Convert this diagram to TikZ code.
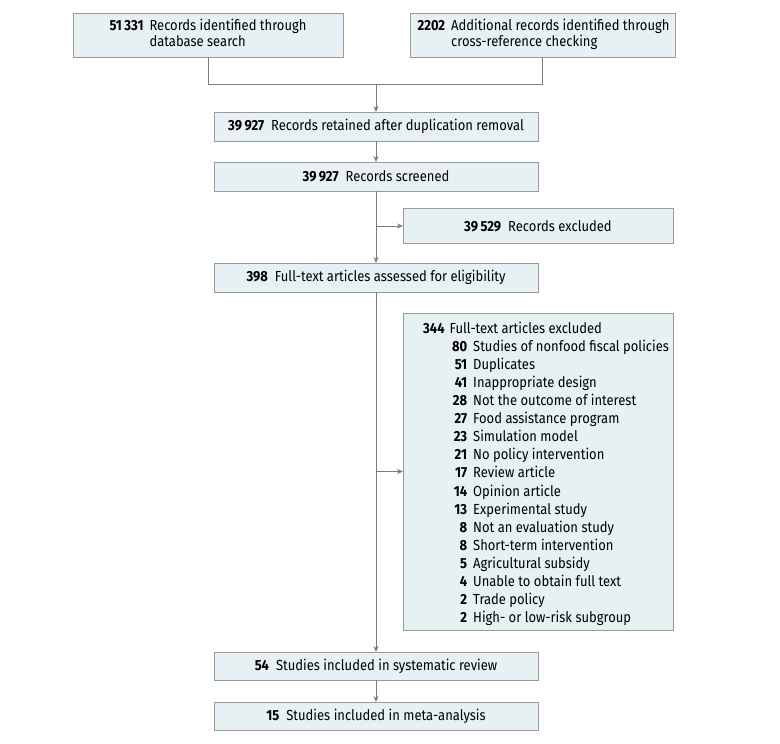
\documentclass[tikz,border=0pt]{standalone}
\usepackage{fontspec}
\setmainfont{Fira Sans}[FakeStretch=0.89]
\setsansfont{Fira Sans}[FakeStretch=0.89]
\usetikzlibrary{arrows.meta}
\definecolor{boxfill}{HTML}{E7F0F2}
\definecolor{boxline}{HTML}{9A9A9A}
\definecolor{conn}{HTML}{7A7A7A}
\tikzset{
  box/.style={draw=boxline, fill=boxfill, line width=0.9pt, inner sep=0pt, outer sep=0pt,
    font=\fontsize{14.6}{15.5}\selectfont},
  conline/.style={draw=conn, line width=0.9pt},
  conarrow/.style={conline, -{Stealth[length=6pt,width=5pt]}}
}
\newcommand{\xitem}[2]{\makebox[44pt][r]{\textbf{#1}}\hspace{6pt}#2}
\begin{document}
\begin{tikzpicture}[x=1pt,y=-1pt]
\useasboundingbox (0,0) rectangle (780,744);
% top boxes
\node[box, minimum width=270pt, minimum height=44pt] (a) at (208,35)
  {\begin{tabular}{@{}l@{\hspace{6pt}}l@{}}\textbf{51\,331} & Records identified through\\ & database search\end{tabular}};
\node[box, minimum width=265pt, minimum height=44pt] (b) at (542.5,35)
  {\hspace*{2pt}\begin{tabular}{@{}l@{\hspace{6pt}}l@{}}\textbf{2202} & Additional records identified through\\ & cross-reference checking\end{tabular}};
% main column
\node[box, minimum width=324pt, minimum height=29pt] (c) at (376,126.5)
  {\textbf{39\,927}\hspace{7pt}Records retained after duplication removal};
\node[box, minimum width=324pt, minimum height=29pt] (d) at (376,176.5)
  {\textbf{39\,927}\hspace{7pt}Records screened};
\node[box, minimum width=270pt, minimum height=35pt] (e) at (538,226)
  {\textbf{39\,529}\hspace{7pt}Records excluded};
\node[box, minimum width=324pt, minimum height=29pt] (f) at (376,277.5)
  {\textbf{398}\hspace{7pt}Full-text articles assessed for eligibility};
\node[box, minimum width=270pt, minimum height=317pt] (g) at (538,471.5) {};
\node[anchor=north west, inner sep=0pt, align=left, font=\fontsize{14.6}{18.05}\selectfont] (glist) at (423,322)
  {\textbf{344}\hspace{5pt}Full-text articles excluded\\
   \xitem{80}{Studies of nonfood fiscal policies}\\
   \xitem{51}{Duplicates}\\
   \xitem{41}{Inappropriate design}\\
   \xitem{28}{Not the outcome of interest}\\
   \xitem{27}{Food assistance program}\\
   \xitem{23}{Simulation model}\\
   \xitem{21}{No policy intervention}\\
   \xitem{17}{Review article}\\
   \xitem{14}{Opinion article}\\
   \xitem{13}{Experimental study}\\
   \xitem{8}{Not an evaluation study}\\
   \xitem{8}{Short-term intervention}\\
   \xitem{5}{Agricultural subsidy}\\
   \xitem{4}{Unable to obtain full text}\\
   \xitem{2}{Trade policy}\\
   \xitem{2}{High- or low-risk subgroup}};
\node[box, minimum width=324pt, minimum height=28pt] (h) at (376,666)
  {\textbf{54}\hspace{7pt}Studies included in systematic review};
\node[box, minimum width=324pt, minimum height=28pt] (i) at (376,716)
  {\textbf{15}\hspace{7pt}Studies included in meta-analysis};
% connectors
\coordinate (j) at (376,84);
\draw[conline] (a.south) |- (j);
\draw[conline] (b.south) |- (j);
\draw[conarrow] (j) -- (c.north);
\draw[conarrow] (c.south) -- (d.north);
\draw[conarrow] (d.south) -- (f.north);
\draw[conarrow] (d.south |- e.west) -- (e.west);
\draw[conarrow] (f.south) -- (h.north);
\draw[conarrow] (f.south |- g.west) -- (g.west);
\draw[conarrow] (h.south) -- (i.north);
\end{tikzpicture}
\end{document}
